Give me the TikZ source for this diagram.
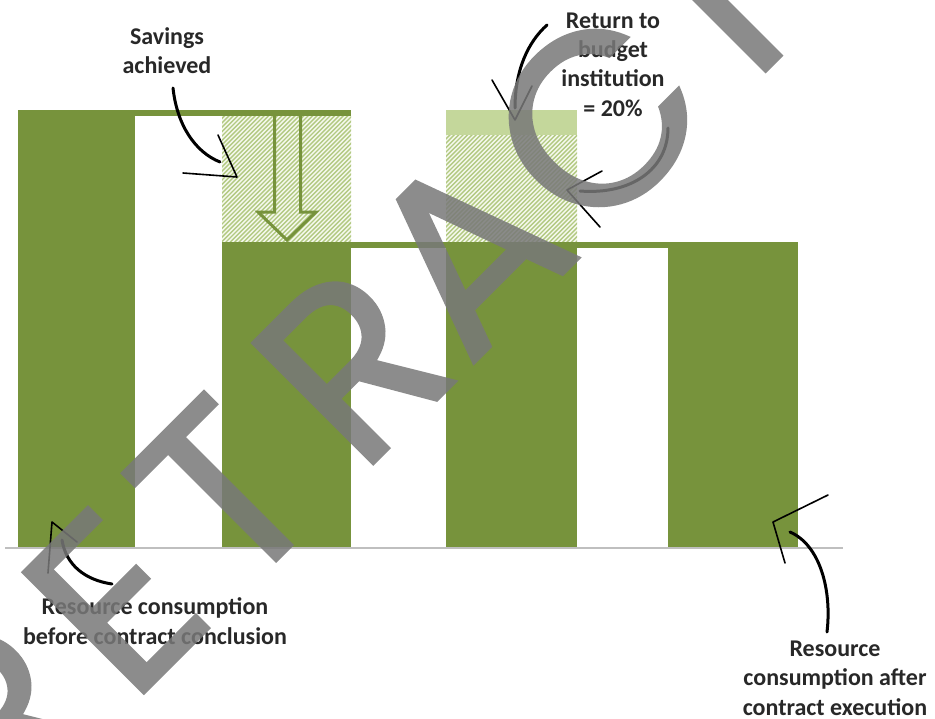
\documentclass[tikz,border=0pt]{standalone}
\usepackage{fontspec}
\setmainfont{Carlito}
\newfontfamily\wmfont{Poppins}[FakeBold=1.2]
\definecolor{bargreen}{RGB}{119,147,60}
\definecolor{lightgreen}{RGB}{196,215,155}
\definecolor{hatchline}{RGB}{178,201,130}
\definecolor{hatchbg}{RGB}{246,249,238}
\definecolor{labelgray}{RGB}{40,40,40}
\definecolor{axisgray}{RGB}{191,191,191}
\definecolor{wmgray}{RGB}{120,120,120}
\begin{document}
\begin{tikzpicture}[x=1pt,y=-1pt,
  lbl/.style={font=\fontsize{24}{29.3}\selectfont\bfseries, text=labelgray, align=center, inner sep=0pt},
  barfill/.style={fill=bargreen},
  hollowarrow/.style={draw=bargreen, line width=3pt, line join=miter},
  shaft/.style={line width=3pt, black, line cap=round},
  barb/.style={line width=1.6pt, black, line cap=round},
  wm/.style={font=\wmfont\fontsize{245}{245}\selectfont, text=wmgray, inner sep=0pt, anchor=base, rotate=45}]
\useasboundingbox (0,0) rectangle (935,718);
\fill[white] (0,0) rectangle (935,718);

% hatched areas
\begin{scope}
  \clip (222,116) rectangle (351,242);
  \fill[hatchbg] (222,116) rectangle (351,242);
  \foreach \i in {90,94.4,...,356} \draw[hatchline, line width=1.4pt] (\i,246) -- ++(134,-134);
\end{scope}
\begin{scope}
  \clip (446,135) rectangle (577,242);
  \fill[hatchbg] (446,135) rectangle (577,242);
  \foreach \i in {330,334.4,...,582} \draw[hatchline, line width=1.4pt] (\i,246) -- ++(115,-115);
\end{scope}
\fill[lightgreen] (446,110) rectangle (577,135);

% bars and level lines
\fill[barfill] (18,110) rectangle (135,548);
\fill[barfill] (135,110) rectangle (351,116);
\fill[barfill] (222,242) rectangle (798,248);
\fill[barfill] (222,242) rectangle (351,548);
\fill[barfill] (446,242) rectangle (577,548);
\fill[barfill] (668,242) rectangle (798,548);

% axis
\draw[axisgray, line width=1.5pt] (5,548) -- (843,548);

% hollow arrow
\draw[hollowarrow] (274.5,116) -- (274.5,212) -- (258,212) -- (287,240) -- (316,212) -- (300.5,212) -- (300.5,116);

% labels
\node[lbl] (sav) at (167,51) {Savings\\achieved};
\node[lbl] (ret) at (613,64.5) {Return to\\budget\\institution\\= 20\%};
\node[lbl] (before) at (155,621) {Resource consumption\\before contract conclusion};
\node[lbl] (after) at (835,678) {Resource\\consumption after\\contract execution};

% hand-drawn arrows
\coordinate (sav0) at (173,88);
\coordinate (savtip) at (237,177);
\draw[shaft] (sav0) .. controls (177,125) and (195,152) .. (220,162);
\draw[barb] (savtip) -- ++(-19,-42) (savtip) -- ++(-54,-4);

\coordinate (ret1) at (547,25);
\coordinate (ret1tip) at (515,120);
\draw[shaft] (ret1) .. controls (528,42) and (515,70) .. (515,108);
\draw[barb] (ret1tip) -- ++(-23,-40) (ret1tip) -- ++(17,-34);

\coordinate (ret2) at (668,128);
\coordinate (ret2tip) at (567,190);
\draw[shaft] (ret2) .. controls (668,170) and (630,195) .. (580,191);
\draw[barb] (ret2tip) -- ++(35,-19) (ret2tip) -- ++(33,37);

\coordinate (bef0) at (112,584);
\coordinate (beftip) at (52,522);
\draw[shaft] (bef0) .. controls (85,580) and (66,565) .. (62,540);
\draw[barb] (beftip) -- ++(25,20) (beftip) -- ++(-4,51);

\coordinate (aft0) at (827,632);
\coordinate (afttip) at (773,522);
\draw[shaft] (aft0) .. controls (832,590) and (820,545) .. (790,532);
\draw[barb] (afttip) -- ++(55,-27) (afttip) -- ++(12,41);

% watermark
\begin{scope}
  \clip (0,0) rectangle (935,718);
  \begin{scope}[transparency group, opacity=0.85]
    \foreach \ch/\px/\py [count=\k] in {R/58.5/778.5, E/175/662, T/284/553, R/412.5/424.5, A/526.5/310.5, C/657/180, T/773.5/63.5, E/898.5/-61.5, D/1013.5/-176.5}
      \node[wm] (wm\k) at (\px,\py) {\ch};
  \end{scope}
\end{scope}
\end{tikzpicture}
\end{document}
